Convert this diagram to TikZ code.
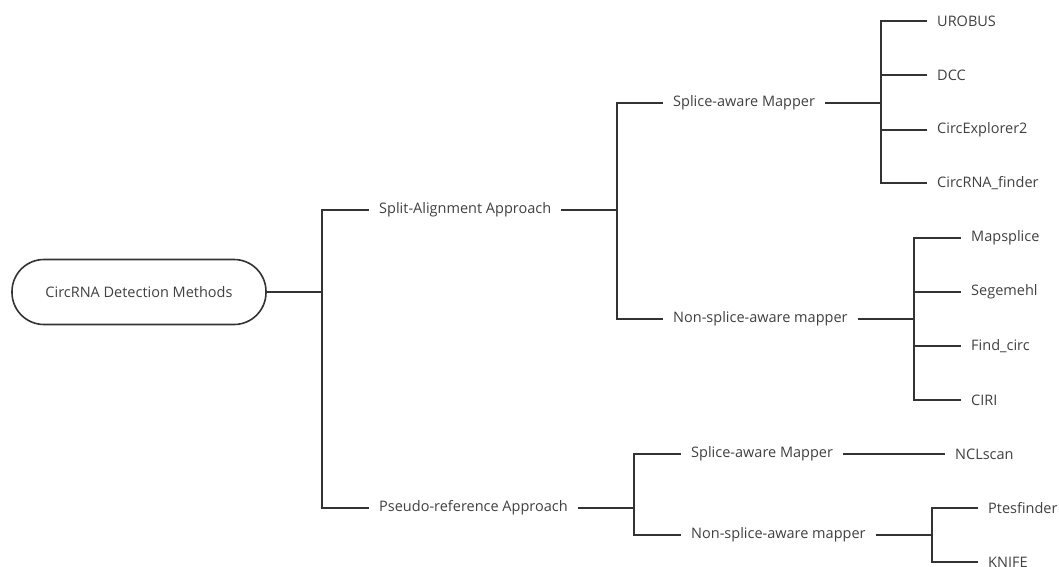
\documentclass[tikz,border=0pt]{standalone}
\usepackage{fontspec}
\setmainfont{Open Sans}
\definecolor{ink}{HTML}{333333}
\definecolor{txt}{HTML}{404040}
\begin{document}
\begin{tikzpicture}[x=1pt,y=-1pt,
  lbl/.style={anchor=west,inner xsep=10pt,inner ysep=2pt,text=txt,font=\fontsize{14.5}{16}\selectfont},
  conn/.style={draw=ink,line width=1.8pt},
  pill/.style={draw=ink,line width=1.6pt,rounded corners=32pt,minimum width=254pt,minimum height=65pt,text=txt,font=\fontsize{14.5}{16}\selectfont}]
\useasboundingbox (0,0) rectangle (1059,566);
% root
\node[pill] (root) at (139,292) {CircRNA Detection Methods};
% junctions
\coordinate (j0) at (322,292);
\coordinate (j1) at (617,210);
\coordinate (j2) at (881,103);
\coordinate (j3) at (914,319);
\coordinate (j4) at (634,508);
\coordinate (j5) at (932,535);
% level 1
\node[lbl] (sa) at (369,210) {Split-Alignment Approach};
\node[lbl] (pr) at (369,508) {Pseudo-reference Approach};
% level 2
\node[lbl] (sam1) at (663,103) {Splice-aware Mapper};
\node[lbl] (nsm1) at (663,319) {Non-splice-aware mapper};
\node[lbl] (sam2) at (681,454) {Splice-aware Mapper};
\node[lbl] (nsm2) at (681,535) {Non-splice-aware mapper};
% leaves
\node[lbl] (urobus) at (927,21) {UROBUS};
\node[lbl] (dcc) at (927,75) {DCC};
\node[lbl] (ce2) at (927,130) {CircExplorer2};
\node[lbl] (cf) at (927,183) {CircRNA\_finder};
\node[lbl] (maps) at (961,238) {Mapsplice};
\node[lbl] (sege) at (961,292) {Segemehl};
\node[lbl] (findc) at (961,346) {Find\_circ};
\node[lbl] (ciri) at (961,400) {CIRI};
\node[lbl] (ncl) at (945,454) {NCLscan};
\node[lbl] (ptes) at (978,508) {Ptesfinder};
\node[lbl] (knife) at (978,562) {KNIFE};
% connectors
\draw[conn] (root.east) -- (j0);
\draw[conn] (sa.west) -| (j0) |- (pr.west);
\draw[conn] (sa.east) -- (j1);
\draw[conn] (sam1.west) -| (j1) |- (nsm1.west);
\draw[conn] (sam1.east) -- (j2);
\draw[conn] (urobus.west) -| (j2) |- (cf.west);
\draw[conn] (dcc.west) -- (dcc.west -| j2);
\draw[conn] (ce2.west) -- (ce2.west -| j2);
\draw[conn] (nsm1.east) -- (j3);
\draw[conn] (maps.west) -| (j3) |- (ciri.west);
\draw[conn] (sege.west) -- (sege.west -| j3);
\draw[conn] (findc.west) -- (findc.west -| j3);
\draw[conn] (pr.east) -- (j4);
\draw[conn] (sam2.west) -| (j4) |- (nsm2.west);
\draw[conn] (sam2.east) -- (ncl.west);
\draw[conn] (nsm2.east) -- (j5);
\draw[conn] (ptes.west) -| (j5) |- (knife.west);
\end{tikzpicture}
\end{document}
